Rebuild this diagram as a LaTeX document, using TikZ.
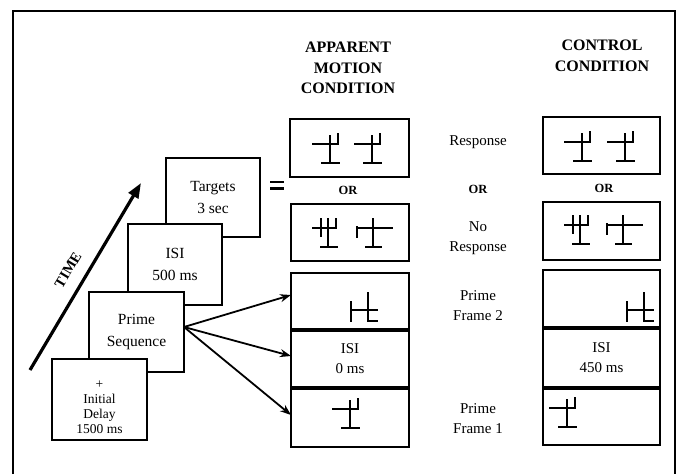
\documentclass[tikz,border=0pt]{standalone}
\usepackage{fontspec}
\setmainfont{Liberation Serif}
\usetikzlibrary{arrows.meta}
\tikzset{
  box/.style={draw, line width=1.9, fill=white, inner sep=0, outer sep=0},
  stk/.style={box, minimum width=94, minimum height=80, align=center, font=\fontsize{15.5}{21.5}\selectfont},
  lbl/.style={align=center, inner sep=0, font=\fontsize{15}{20}\selectfont},
  head/.style={align=center, inner sep=0, font=\bfseries\fontsize{16}{20.5}\selectfont},
  orlbl/.style={inner sep=0, font=\bfseries\fontsize{12.5}{13}\selectfont},
  divider/.style={line width=3.6},
  conn/.style={line width=1.8, -{Stealth[length=11,width=8]}},
  glyph/.style={line width=2.3},
  glyphA/.pic={\draw[glyph] (0,0)--(0,-28) (-9,0)--(10,0) (-18,-19)--(8,-19)--(8,-30);},
  glyphB/.pic={\draw[glyph] (0,0)--(0,-29) (-8,0)--(10,0) (-16,-19)--(8,-19)--(8,-29) (-7,-29)--(-7,-10);},
  glyphC/.pic={\draw[glyph] (0,0)--(0,-29) (-8,0)--(9,0) (-16,-19)--(20,-19) (-16,-21)--(-16,-9);},
  glyphD/.pic={\draw[glyph] (0,-9)--(0,12) (0,0)--(27,0) (17,-18)--(17,11)--(27,11);}
}
\begin{document}
\begin{tikzpicture}[x=1pt,y=-1pt]
\useasboundingbox (0,0) rectangle (679,474);
% outer frame
\draw[line width=1.3] (13,474) -- (13,11) -- (675,11) -- (675,474);

% headings
\node[head] (h1) at (348,68) {APPARENT\\MOTION\\CONDITION};
\node[head] (h2) at (602,56) {CONTROL\\CONDITION};

% apparent motion column
\node[box, minimum width=119, minimum height=58] (resA) at (349.5,148) {};
\node[orlbl] (orA) at (348,190) {OR};
\node[box, minimum width=118, minimum height=57] (nrA) at (350,232.5) {};
\node[box, minimum width=118, minimum height=57] (pf2A) at (350,301.5) {};
\node[box, minimum width=118, minimum height=58, lbl] (isiA) at (350,359) {ISI\\0 ms};
\node[box, minimum width=118, minimum height=59] (pf1A) at (350,417.5) {};
\draw[divider] (pf2A.south west) -- (pf2A.south east);
\draw[divider] (isiA.south west) -- (isiA.south east);

% control column
\node[box, minimum width=117, minimum height=57] (resC) at (601.5,145.5) {};
\node[orlbl] (orC) at (604,188) {OR};
\node[box, minimum width=117, minimum height=58] (nrC) at (601.5,231) {};
\node[box, minimum width=117, minimum height=58] (pf2C) at (601.5,299) {};
\node[box, minimum width=117, minimum height=60, lbl] (isiC) at (601.5,358) {ISI\\450 ms};
\node[box, minimum width=117, minimum height=57] (pf1C) at (601.5,416.5) {};
\draw[divider] (pf2C.south west) -- (pf2C.south east);
\draw[divider] (isiC.south west) -- (isiC.south east);

% middle labels
\node[lbl] (lresp) at (478,142) {Response};
\node[orlbl] (lor) at (478,189) {OR};
\node[lbl] (lnr) at (478,238) {No\\Response};
\node[lbl] (lpf2) at (478,305.5) {Prime\\Frame 2};
\node[lbl] (lpf1) at (478,418.5) {Prime\\Frame 1};

% glyphs
\pic at (330,163) {glyphA};
\pic at (372,163) {glyphA};
\pic at (328,247) {glyphB};
\pic at (373,247) {glyphC};
\pic at (351,310) {glyphD};
\pic at (350,428) {glyphA};
\pic at (582,161) {glyphA};
\pic at (625,161) {glyphA};
\pic at (580,244) {glyphB};
\pic at (623,244) {glyphC};
\pic at (627,310) {glyphD};
\pic at (567,427) {glyphA};

% left stack of frames
\node[stk, minimum height=79] (tg) at (213,197.5) {Targets\\3 sec};
\node[stk, minimum height=81] (isi5) at (175,264.5) {ISI\\500 ms};
\node[stk, minimum width=95] (ps) at (136.5,332) {Prime\\Sequence};
\node[stk, minimum width=95, minimum height=81] (dl) at (99.5,399.5) {};
\node[align=center, inner sep=0, font=\fontsize{13.5}{15}\selectfont] (dltxt) at (99.5,407) {+\\Initial\\Delay\\1500 ms};

% equals sign
\draw[line width=2.8] (270,182) -- (284,182) (270,188.5) -- (284,188.5);

% time arrow
\coordinate (t0) at (30,370);
\coordinate (t1) at (141,183);
\draw[line width=3.2, -{Triangle[length=15,width=11]}] (t0) -- (t1);
\node[rotate=59, inner sep=0, font=\bfseries\fontsize{14.5}{14.5}\selectfont] (time) at (68,270) {TIME};

% prime sequence arrows
\coordinate (psout) at ([yshift=5pt]ps.east);
\draw[conn] (psout) -- ([yshift=6.5pt]pf2A.west);
\draw[conn] (psout) -- ([yshift=3pt]isiA.west);
\draw[conn] (psout) -- ([yshift=2.5pt]pf1A.west);
\end{tikzpicture}
\end{document}
